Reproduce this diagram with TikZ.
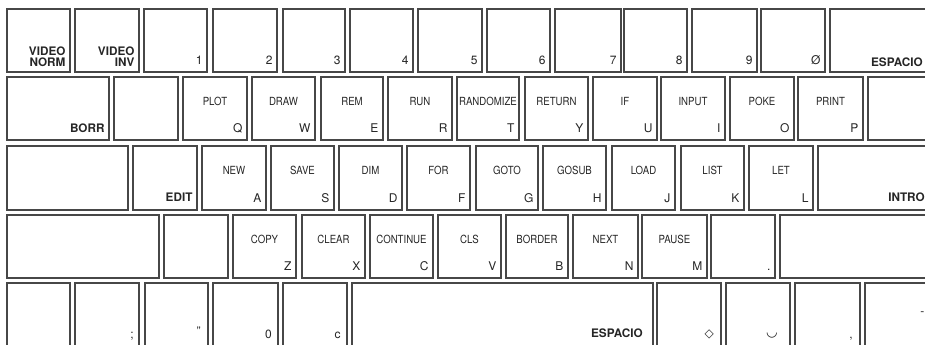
\documentclass[tikz,border=0pt]{standalone}
\usepackage{fontspec}
\setmainfont{TeX Gyre Heros}
\newfontfamily\condfont[FakeStretch=0.86]{TeX Gyre Heros}
\newfontfamily\symfont{DejaVu Sans}
\usetikzlibrary{fit}
\tikzset{
  keybox/.style={draw=black!72, line width=1.1pt, inner sep=0pt, rectangle},
  toplab/.style={font=\condfont\fontsize{8.4}{9}\selectfont, inner sep=0pt, anchor=center, text=black!85},
  cornerlab/.style={font=\fontsize{9}{9}\selectfont, inner sep=0pt, anchor=base east, text=black!85},
  biglab/.style={font=\bfseries\fontsize{8.8}{8.6}\selectfont, inner sep=0pt, anchor=base east, align=right, text=black!85},
}
% name, x1, x2, y1, y2, top label, corner label
\newcommand\kk[7]{%
  \coordinate (#1-a) at (#2,#4);
  \coordinate (#1-b) at (#3,#5);
  \node[keybox, fit=(#1-a)(#1-b)] (#1) {};
  \node[toplab] (#1-t) at ([yshift=-18.75pt]#1.north) {#6};
  \node[cornerlab] (#1-c) at ([xshift=-3.75pt,yshift=6pt]#1.south east) {#7};
}
% plain key: name, x1, x2, y1, y2
\newcommand\kp[5]{%
  \coordinate (#1-a) at (#2,#4);
  \coordinate (#1-b) at (#3,#5);
  \node[keybox, fit=(#1-a)(#1-b)] (#1) {};
}
\begin{document}
\begin{tikzpicture}[x=0.75pt,y=-0.75pt]
\useasboundingbox (0,0) rectangle (925,345);
\clip (0,0) rectangle (925,345);
\fill[white] (0,0) rectangle (925,345);

% ---------- row 1 ----------
\kp{vnorm}{7}{70}{9}{72}
\node[biglab] (vnorm-l) at ([xshift=-3.75pt,yshift=4.5pt]vnorm.south east) {VIDEO\\NORM};
\kp{vinv}{75}{139}{9}{72}
\node[biglab] (vinv-l) at ([xshift=-3.75pt,yshift=4.5pt]vinv.south east) {VIDEO\\INV};
\kk{n1}{144}{207}{9}{72}{}{1}
\kk{n2}{213}{277}{9}{72}{}{2}
\kk{n3}{283}{345}{9}{72}{}{3}
\kk{n4}{350}{413}{9}{72}{}{4}
\kk{n5}{418}{482}{9}{72}{}{5}
\kk{n6}{487}{550}{9}{72}{}{6}
\kk{n7}{555}{621}{9}{72}{}{7}
\kk{n8}{624}{687}{9}{72}{}{8}
\kk{n9}{692}{757}{9}{72}{}{9}
\kk{n0}{761}{825}{9}{72}{}{Ø}
\kp{esp1}{830}{990}{9}{72}
\node[biglab] (esp1-l) at (923,67) {ESPACIO};

% ---------- row 2 ----------
\kp{borr}{7}{109}{77}{140}
\node[biglab] (borr-l) at ([xshift=-3.75pt,yshift=6pt]borr.south east) {BORR};
\kp{r2b}{114}{178}{77}{140}
\kk{kq}{183}{247}{77}{140}{PLOT}{Q}
\kk{kw}{252}{315}{77}{140}{DRAW}{W}
\kk{ke}{321}{383}{77}{140}{REM}{E}
\kk{kr}{388}{452}{77}{140}{RUN}{R}
\kk{kt}{457}{519}{77}{140}{RANDOMIZE}{T}
\kk{ky}{525}{588}{77}{140}{RETURN}{Y}
\kk{ku}{593}{657}{77}{140}{IF}{U}
\kk{ki}{661}{725}{77}{140}{INPUT}{I}
\kk{ko}{730}{794}{77}{140}{POKE}{O}
\kk{kp}{798}{863}{77}{140}{PRINT}{P}
\kp{r2e}{868}{990}{77}{140}

% ---------- row 3 ----------
\kp{r3a}{7}{128}{146}{210}
\kp{edit}{133}{197}{146}{210}
\node[biglab] (edit-l) at ([xshift=-3.75pt,yshift=7pt]edit.south east) {EDIT};
\kk{ka}{202}{266}{146}{210}{NEW}{A}
\kk{ks}{271}{334}{146}{210}{SAVE}{S}
\kk{kd}{339}{402}{146}{210}{DIM}{D}
\kk{kf}{407}{470}{146}{210}{FOR}{F}
\kk{kg}{476}{538}{146}{210}{GOTO}{G}
\kk{kh}{543}{606}{146}{210}{GOSUB}{H}
\kk{kj}{612}{675}{146}{210}{LOAD}{J}
\kk{kk}{681}{744}{146}{210}{LIST}{K}
\kk{kl}{749}{813}{146}{210}{LET}{L}
\kp{intro}{818}{990}{146}{210}
\node[biglab, anchor=base west] (intro-l) at (888,202) {INTRO};

% ---------- row 4 ----------
\kp{r4a}{7}{159}{215}{278}
\kp{r4b}{164}{228}{215}{278}
\kk{kz}{233}{296}{215}{278}{COPY}{Z}
\kk{kx}{302}{365}{215}{278}{CLEAR}{X}
\kk{kc}{370}{433}{215}{278}{CONTINUE}{C}
\kk{kv}{438}{501}{215}{278}{CLS}{V}
\kk{kb}{506}{568}{215}{278}{BORDER}{B}
\kk{kn}{573}{638}{215}{278}{NEXT}{N}
\kk{km}{642}{707}{215}{278}{PAUSE}{M}
\kk{kdot}{711}{775}{215}{278}{}{.}
\kp{r4e}{780}{990}{215}{278}

% ---------- row 5 ----------
\kp{r5a}{7}{70}{283}{420}
\kp{r5b}{75}{139}{283}{420}
\node[cornerlab] (r5b-l) at (134,339) {;};
\kp{r5c}{145}{208}{283}{420}
\node[cornerlab] (r5c-l) at (201,335) {"};
\kp{r5d}{213}{278}{283}{420}
\node[cornerlab] (r5d-l) at (272,339) {0};
\kp{r5e}{283}{347}{283}{420}
\node[cornerlab] (r5e-l) at (341,339) {c};
\kp{spc}{352}{653}{283}{420}
\node[biglab] (spc-l) at (643,338) {ESPACIO};
\kp{r5f}{657}{721}{283}{420}
\node[cornerlab, font=\symfont\fontsize{9}{9}\selectfont] (r5f-l) at (714,338) {◇};
\kp{r5g}{726}{790}{283}{420}
\node[cornerlab, font=\symfont\fontsize{10}{10}\selectfont] (r5g-l) at (778,337) {◡};
\kp{r5h}{795}{860}{283}{420}
\node[cornerlab] (r5h-l) at (853,339) {,};
\kp{r5i}{865}{990}{283}{420}
\node[cornerlab, anchor=base west] (r5i-l) at (920,316) {-};
\end{tikzpicture}
\end{document}
